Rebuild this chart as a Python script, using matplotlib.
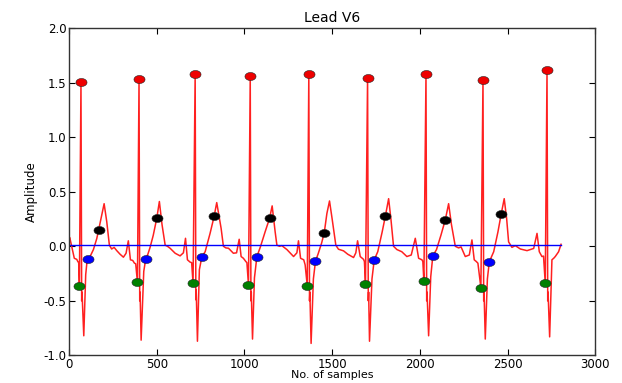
#Plot ECG lead V6 with detected fiducial points
import matplotlib as mpl
mpl.use('Agg')
import matplotlib.pyplot as plt
import numpy as np

# red trace vertices (sample, amplitude)
sig_x = [0, 4, 19, 30, 44, 50, 55, 59, 68, 72, 74, 84, 95, 103, 107, 120, 139, 158, 169, 186,
         200, 215, 230, 243, 257, 272, 291, 310, 325, 338, 350, 363, 373, 380, 390, 399, 403, 405, 411, 426,
         437, 450, 462, 480, 500, 515, 530, 548, 561, 576, 605, 633, 652, 664, 675, 690, 699, 707, 719, 723,
         725, 732, 743, 757, 776, 804, 827, 842, 867, 880, 894, 909, 937, 955, 970, 981, 994, 1008, 1014, 1023,
         1033, 1037, 1039, 1046, 1057, 1071, 1090, 1118, 1143, 1158, 1175, 1185, 1200, 1213, 1242, 1280, 1299, 1308, 1320, 1338,
         1346, 1358, 1367, 1371, 1373, 1380, 1393, 1405, 1420, 1440, 1455, 1470, 1485, 1500, 1521, 1536, 1565, 1589, 1622, 1635,
         1645, 1660, 1679, 1684, 1690, 1702, 1706, 1708, 1713, 1727, 1740, 1760, 1785, 1803, 1822, 1835, 1850, 1869, 1897, 1926,
         1951, 1974, 1993, 2012, 2017, 2023, 2035, 2039, 2041, 2050, 2062, 2074, 2095, 2120, 2145, 2164, 2180, 2202, 2221, 2235,
         2259, 2282, 2297, 2310, 2322, 2331, 2348, 2360, 2364, 2366, 2373, 2385, 2396, 2421, 2445, 2464, 2481, 2495, 2506, 2525,
         2544, 2573, 2611, 2649, 2668, 2681, 2696, 2705, 2715, 2725, 2729, 2731, 2740, 2753, 2763, 2772, 2791, 2805]
sig_y = [0.07, 0.08, -0.03, -0.11, -0.12, -0.14, -0.15, -0.36, 1.505, -0.50, -0.42, -0.82, -0.26, -0.13, -0.118, -0.094, -0.03, 0.07, 0.152, 0.285,
         0.39, 0.225, 0.01, -0.025, -0.01, -0.04, -0.073, -0.10, -0.064, 0.05, -0.124, -0.13, -0.155, -0.16, -0.33, 1.53, -0.50, -0.42, -0.86, -0.23,
         -0.118, -0.07, -0.01, 0.10, 0.255, 0.41, 0.20, 0.01, 0.0, -0.018, -0.064, -0.088, -0.06, 0.073, -0.124, -0.145, -0.15, -0.34, 1.58, -0.49,
         -0.40, -0.87, -0.215, -0.097, -0.05, 0.118, 0.273, 0.40, 0.164, 0.0, -0.015, -0.018, -0.064, -0.06, 0.064, -0.094, -0.11, -0.14, -0.15, -0.355,
         1.557, -0.50, -0.42, -0.85, -0.29, -0.094, -0.01, 0.133, 0.255, 0.37, 0.133, 0.01, 0.0, 0.006, -0.03, -0.094, -0.06, 0.05, -0.11, -0.124,
         -0.17, -0.36, 1.575, -0.50, -0.42, -0.89, -0.30, -0.136, -0.07, 0.03, 0.124, 0.30, 0.415, 0.25, 0.01, -0.027, -0.042, -0.073, -0.103, -0.06,
         0.05, -0.094, -0.12, -0.14, -0.35, 1.545, -0.50, -0.42, -0.87, -0.30, -0.124, -0.05, 0.13, 0.273, 0.436, 0.25, 0.0, -0.03, -0.05, -0.094,
         -0.08, 0.073, -0.11, -0.124, -0.14, -0.32, 1.575, -0.50, -0.42, -0.82, -0.28, -0.088, -0.03, 0.10, 0.242, 0.39, 0.20, 0.0, -0.015, -0.006,
         -0.094, -0.08, 0.058, -0.124, -0.14, -0.155, -0.38, 1.527, -0.50, -0.42, -0.85, -0.30, -0.142, -0.05, 0.13, 0.297, 0.436, 0.25, 0.04, -0.01,
         0.006, -0.025, -0.04, -0.02, 0.118, -0.05, -0.094, -0.09, -0.34, 1.618, -0.50, -0.42, -0.83, -0.124, -0.11, -0.094, -0.05, 0.018]

# baseline
base_x = [0, 2805]
base_y = [0.01, 0.01]

# fiducial points
r_x = [68, 399, 719, 1033, 1367, 1702, 2035, 2360, 2725]
r_y = [1.505, 1.53, 1.58, 1.557, 1.575, 1.545, 1.575, 1.527, 1.618]
q_x = [59, 390, 707, 1023, 1358, 1690, 2023, 2348, 2715]
q_y = [-0.36, -0.33, -0.34, -0.355, -0.36, -0.35, -0.32, -0.38, -0.34]
s_x = [107, 437, 757, 1071, 1405, 1740, 2074, 2396]
s_y = [-0.118, -0.118, -0.097, -0.094, -0.136, -0.124, -0.088, -0.142]
t_x = [169, 500, 827, 1143, 1455, 1803, 2145, 2464]
t_y = [0.152, 0.255, 0.273, 0.255, 0.124, 0.273, 0.242, 0.297]

# slightly flattened dot, like the reference
th = np.linspace(0, 2 * np.pi, 30)
dot = list(zip(np.cos(th), 0.72 * np.sin(th)))

fig = plt.figure(figsize=(6.22, 3.83), dpi=100, facecolor='white')
ax = fig.add_axes([0.111, 0.072, 0.846, 0.855])
ax.plot(sig_x, sig_y, color='#ff2020', lw=1.1)
ax.plot(base_x, base_y, color='blue', lw=1.0)
mk = dict(linestyle='none', marker=dot, markersize=8, markeredgecolor='#222222', markeredgewidth=0.4)
ax.plot(r_x, r_y, markerfacecolor='#ee0000', **mk)
ax.plot(q_x, q_y, markerfacecolor='green', **mk)
ax.plot(s_x, s_y, markerfacecolor='blue', **mk)
ax.plot(t_x, t_y, markerfacecolor='black', **mk)

ax.set_xlim(0, 3000)
ax.set_ylim(-1.0, 2.0)
ax.set_xticks(np.arange(0, 3001, 500))
ax.set_yticks(np.arange(-1.0, 2.01, 0.5))
ax.yaxis.set_major_formatter(mpl.ticker.FormatStrFormatter('%.1f'))
ax.tick_params(direction='in', top=True, right=True, length=4, width=0.8, labelsize=8.5, pad=2)
for sp in ax.spines.values():
    sp.set_linewidth(1.0)
    sp.set_color('#333333')
ax.set_title("Lead V6", fontsize=10, pad=4)
ax.set_xlabel("No. of samples", fontsize=8, labelpad=-1)
ax.set_ylabel("Amplitude", fontsize=8.5, labelpad=4)
plt.savefig('out.png', dpi=100, facecolor='white')
